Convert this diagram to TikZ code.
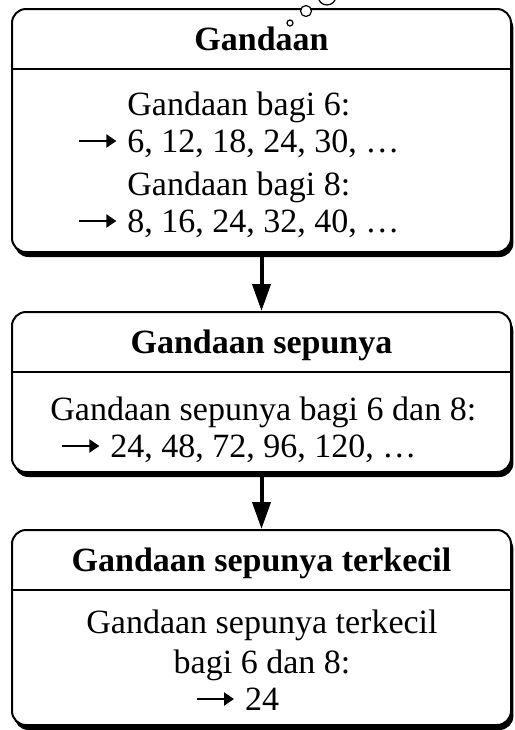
\documentclass[tikz,border=0pt]{standalone}
\usepackage{fontspec}
\setmainfont{Liberation Serif}
\usetikzlibrary{arrows.meta,shadows}

\newcommand{\pointer}{\tikz[baseline=0pt]\draw[line width=1pt,-{Triangle[length=5pt,width=6.5pt]}] (0pt,5.5pt) -- (18.5pt,5.5pt);}
\newcommand{\ptr}{\llap{\pointer\hspace{5pt}}}

\begin{document}
\begin{tikzpicture}[x=0.5pt, y=-0.5pt,
		frame/.style={draw, line width=1pt, rounded corners=7pt, minimum width=249.5pt, inner sep=0pt, fill=white,
			drop shadow={shadow xshift=1.2pt, shadow yshift=-2.5pt, fill=black, opacity=1}},
		hdr/.style={anchor=north, minimum width=249.5pt, minimum height=30pt, inner sep=0pt,
			text height=12pt, text depth=0pt, font=\fontsize{17}{20}\selectfont\bfseries},
		txt/.style={anchor=base west, inner sep=0pt, font=\fontsize{17}{20}\selectfont},
		rule/.style={line width=1pt},
		flow/.style={line width=2pt, -{Triangle[length=13.5pt,width=9pt]}},
		bubble/.style={draw, fill=white, line width=0.6pt}]
			\path[use as bounding box, fill=white] (0,0) rectangle (515,730);

			% the three boxes
			\node[frame, minimum height=121.5pt] (box1) at (261.5,130.5) {};
			\node[frame, minimum height=80pt] (box2) at (261.5,392) {};
			\node[frame, minimum height=97.5pt] (box3) at (261.5,627.5) {};

			\node[hdr] (hd1) at (box1.north) {Gandaan};
			\node[hdr] (hd2) at (box2.north) {Gandaan sepunya};
			\node[hdr] (hd3) at (box3.north) {Gandaan sepunya terkecil};
			\draw[rule] (hd1.south west) -- (hd1.south east);
			\draw[rule] (hd2.south west) -- (hd2.south east);
			\draw[rule] (hd3.south west) -- (hd3.south east);

			\node[txt] (g6) at (127,115) {Gandaan bagi 6:};
			\node[txt] (m6) at (127,152) {\ptr 6, 12, 18, 24, 30, \dots};
			\node[txt] (g8) at (127,195) {Gandaan bagi 8:};
			\node[txt] (m8) at (127,232) {\ptr 8, 16, 24, 32, 40, \dots};

			\node[txt] (gs) at (50,420) {Gandaan sepunya bagi 6 dan 8:};
			\node[txt] (ms) at (110,457) {\ptr 24, 48, 72, 96, 120, \dots};

			\node[txt, anchor=base] (gt) at (262,633) {Gandaan sepunya terkecil};
			\node[txt, anchor=base] (bt) at (262,673) {bagi 6 dan 8:};
			\node[txt, anchor=base] (mt) at (262,710) {\ptr 24};

			\draw[flow] (box1.south) -- (box2.north);
			\draw[flow] (box2.south) -- (box3.north);

			% bubbles on the top edge
			\draw[bubble] (290,23) circle (3);
			\draw[bubble] (306,11) circle (5.5);
			\draw[bubble] (327,-4) circle (9);
		\end{tikzpicture}
\end{document}
